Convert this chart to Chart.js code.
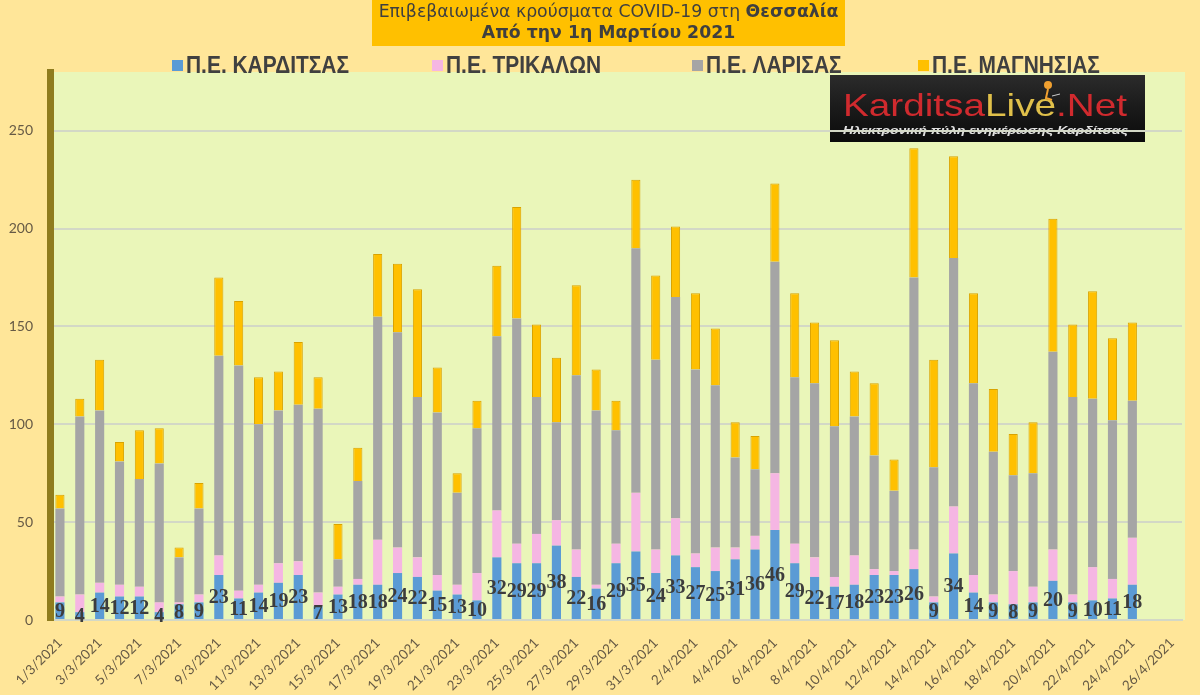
<!DOCTYPE html>
<html><head><meta charset="utf-8">
<script src="https://cdn.jsdelivr.net/npm/chart.js@4.4.1/dist/chart.umd.min.js"></script>
<style>html,body{margin:0;padding:0;background:#FFE699;overflow:hidden}canvas{display:block}</style>
</head><body>
<canvas id="c" width="1200" height="695"></canvas>
<script>
const dates = ['1/3/2021','2/3/2021','3/3/2021','4/3/2021','5/3/2021','6/3/2021','7/3/2021','8/3/2021','9/3/2021','10/3/2021',
'11/3/2021','12/3/2021','13/3/2021','14/3/2021','15/3/2021','16/3/2021','17/3/2021','18/3/2021','19/3/2021','20/3/2021',
'21/3/2021','22/3/2021','23/3/2021','24/3/2021','25/3/2021','26/3/2021','27/3/2021','28/3/2021','29/3/2021','30/3/2021',
'31/3/2021','1/4/2021','2/4/2021','3/4/2021','4/4/2021','5/4/2021','6/4/2021','7/4/2021','8/4/2021','9/4/2021',
'10/4/2021','11/4/2021','12/4/2021','13/4/2021','14/4/2021','15/4/2021','16/4/2021','17/4/2021','18/4/2021','19/4/2021',
'20/4/2021','21/4/2021','22/4/2021','23/4/2021','24/4/2021','25/4/2021','26/4/2021'];
const karditsa = [9,4,14,12,12,4,8,9,23,11, 14,19,23,7,13,18,18,24,22,15, 13,10,32,29,29,38,22,16,29,35, 24,33,27,25,31,36,46,29,22,17, 18,23,23,26,9,34,14,9,8,9, 20,9,10,11,18];
const trikala = [3,9,5,6,5,5,1,4,10,4, 4,10,7,7,4,3,23,13,10,8, 5,14,24,10,15,13,14,2,10,30, 12,19,7,12,6,7,29,10,10,5, 15,3,2,10,3,24,9,4,17,8, 16,4,17,10,24];
const larisa = [45,91,88,63,55,71,23,44,102,115, 82,78,80,94,14,50,114,110,82,83, 47,74,89,115,70,50,89,89,58,125, 97,113,94,83,46,34,108,85,89,77, 71,58,41,139,66,127,98,73,49,58, 101,101,86,81,70];
const magnesia = [7,9,26,10,25,18,5,13,40,33, 24,20,32,16,18,17,32,35,55,23, 10,14,36,57,37,33,46,21,15,35, 43,36,39,29,18,17,40,43,31,44, 23,37,16,66,55,52,46,32,21,26, 68,37,55,42,40];
const seriesNames = ['Π.Ε. ΚΑΡΔΙΤΣΑΣ','Π.Ε. ΤΡΙΚΑΛΩΝ','Π.Ε. ΛΑΡΙΣΑΣ','Π.Ε. ΜΑΓΝΗΣΙΑΣ'];
const yTicks = [0,50,100,150,200,250];
const titleLine1 = 'Επιβεβαιωμένα κρούσματα COVID-19 στη ';
const titleBold = 'Θεσσαλία';
const titleLine2 = 'Από την 1η Μαρτίου 2021';
const logoParts = ['Karditsa','Live','.Net'];
const logoSub = 'Ηλεκτρονική πύλη ενημέρωσης Καρδίτσας';

const colors = ['#5B9BD5','#F5B6E3','#A5A5A5','#FFC000'];
const TXT = '#665a45';

function drawLogo(ctx){
  const g = ctx.createLinearGradient(0,75,0,142);
  g.addColorStop(0,'#2b2b2b'); g.addColorStop(0.5,'#1a1a1a'); g.addColorStop(1,'#0b0b0b');
  ctx.fillStyle = g; ctx.fillRect(830,75,315,67);
  ctx.font = '32px "Liberation Sans", Arial, sans-serif';
  ctx.textBaseline = 'alphabetic'; ctx.textAlign = 'left';
  const cols = ['#D02A2E','#E0C04A','#D02A2E'];
  let total = 0; logoParts.forEach(p => total += ctx.measureText(p).width);
  ctx.save(); ctx.translate(843,116); ctx.scale(284/total,1);
  let x = 0;
  logoParts.forEach((p,i)=>{ ctx.fillStyle = cols[i]; ctx.fillText(p,x,0); x += ctx.measureText(p).width; });
  ctx.restore();
  ctx.fillStyle = '#F0A030';
  ctx.beginPath(); ctx.arc(1048,85,4,0,Math.PI*2); ctx.fill();
  ctx.strokeStyle = '#F0A030'; ctx.lineWidth = 2;
  ctx.beginPath(); ctx.moveTo(1048,89); ctx.lineTo(1046,98); ctx.lineTo(1052,100); ctx.stroke();
  ctx.strokeStyle = '#cccccc'; ctx.lineWidth = 1;
  ctx.beginPath(); ctx.moveTo(1052,96); ctx.lineTo(1060,94); ctx.stroke();
  ctx.font = 'italic bold 11px "Liberation Sans", Arial, sans-serif';
  const w = ctx.measureText(logoSub).width;
  ctx.save(); ctx.translate(843,134); ctx.scale(285/w,1);
  ctx.fillStyle = '#e0e0e0'; ctx.fillText(logoSub,0,0);
  ctx.restore();
}

const decor = {
  id: 'decor',
  beforeDraw(chart){
    const {ctx, chartArea:a} = chart;
    ctx.save();
    ctx.fillStyle = '#FFE699'; ctx.fillRect(0,0,chart.width,chart.height);
    ctx.fillStyle = '#EAF6B9'; ctx.fillRect(a.left, a.top, a.right - a.left + 3, a.bottom - a.top);
    drawLogo(ctx);
    ctx.restore();
  },
  afterDatasetsDraw(chart){
    const ctx = chart.ctx;
    const meta = chart.getDatasetMeta(0);
    ctx.save();
    ctx.font = 'bold 20px "Liberation Serif", serif';
    ctx.fillStyle = '#3d3d3d'; ctx.textAlign = 'center'; ctx.textBaseline = 'middle';
    meta.data.forEach((el,i)=>{
      const v = karditsa[i];
      if (v == null) return;
      ctx.fillText(String(v), el.x, (el.y + el.base)/2 + 1);
    });
    ctx.restore();
  },
  afterDraw(chart){
    const ctx = chart.ctx;
    ctx.save();
    ctx.fillStyle = '#FFC000'; ctx.fillRect(372,0,473,46);
    ctx.fillStyle = '#3f3f3f'; ctx.textBaseline = 'middle'; ctx.textAlign = 'left';
    const fam = '"DejaVu Sans", Verdana, sans-serif';
    ctx.font = '15px ' + fam; const w1 = ctx.measureText(titleLine1).width;
    ctx.font = 'bold 15px ' + fam; const w2 = ctx.measureText(titleBold).width;
    const fs = 15 * 460 / (w1 + w2);
    ctx.font = fs + 'px ' + fam; const a1 = ctx.measureText(titleLine1).width;
    ctx.font = 'bold ' + fs + 'px ' + fam; const a2 = ctx.measureText(titleBold).width;
    let sx = 608.5 - (a1 + a2)/2;
    ctx.font = fs + 'px ' + fam; ctx.fillText(titleLine1, sx, 13);
    ctx.font = 'bold ' + fs + 'px ' + fam; ctx.fillText(titleBold, sx + a1, 13);
    ctx.textAlign = 'center'; ctx.fillText(titleLine2, 608.5, 34);
    const legendX = [172,432,692,918];
    ctx.font = 'bold 23px "Liberation Sans Narrow", "Liberation Sans", Arial, sans-serif';
    const lw = ctx.measureText(seriesNames[0]).width;
    const lsx = 163 / lw;
    ctx.textAlign = 'left'; ctx.textBaseline = 'alphabetic';
    seriesNames.forEach((n,i)=>{
      ctx.fillStyle = chart.data.datasets[i].backgroundColor;
      ctx.fillRect(legendX[i], 60, 11, 11);
      ctx.save(); ctx.translate(legendX[i] + 14, 73); ctx.scale(lsx,1);
      ctx.fillStyle = '#404040'; ctx.fillText(n, 0, 0);
      ctx.restore();
    });
    ctx.restore();
  }
};

new Chart(document.getElementById('c'), {
  type: 'bar',
  data: {
    labels: dates,
    datasets: [
      {label: seriesNames[0], data: karditsa, backgroundColor: colors[0]},
      {label: seriesNames[1], data: trikala, backgroundColor: colors[1]},
      {label: seriesNames[2], data: larisa, backgroundColor: colors[2]},
      {label: seriesNames[3], data: magnesia, backgroundColor: colors[3], borderColor: '#D9A300', borderWidth: 1}
    ]
  },
  options: {
    responsive: false, animation: false,
    layout: {padding: {top: 72, right: 18, left: 0, bottom: 0}},
    plugins: {legend: {display: false}, title: {display: false}, tooltip: {enabled: false}},
    datasets: {bar: {categoryPercentage: 1, barPercentage: 0.46}},
    scales: {
      x: {
        stacked: true,
        grid: {display: false},
        border: {display: true, color: '#d3d8c6', width: 2},
        ticks: {autoSkip: false, maxRotation: 45, minRotation: 45, padding: 7, color: TXT,
          font: {family: 'Lato', size: 13.5},
          callback: (v, i) => i % 2 === 0 ? dates[i] : ''},
        afterFit(s){ s.height = 75; }
      },
      y: {
        stacked: true, min: 0, max: 280,
        ticks: {stepSize: 50, includeBounds: false, padding: 17, color: TXT,
          font: {family: 'Lato', size: 14},
          callback: v => yTicks.includes(v) ? String(v) : ''},
        grid: {color: '#d3d8c6', lineWidth: 2, drawTicks: false},
        border: {display: true, color: '#8f7c1e', width: 7},
        afterFit(s){ s.width = 50; }
      }
    }
  },
  plugins: [decor]
});
</script>
</body></html>
